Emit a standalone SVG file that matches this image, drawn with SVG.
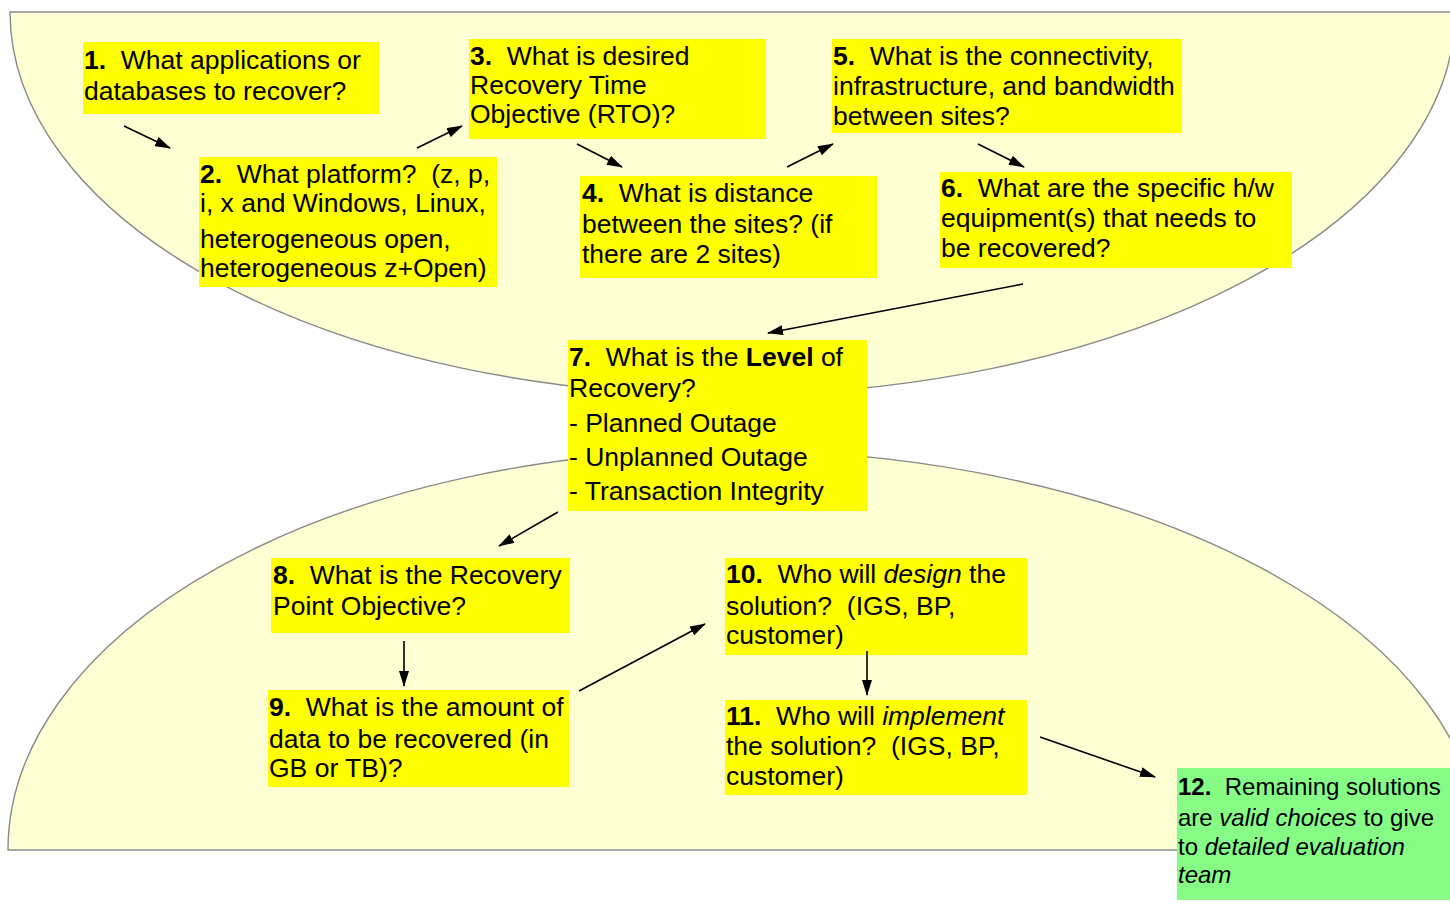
<svg xmlns="http://www.w3.org/2000/svg" width="1450" height="907" viewBox="0 0 1450 907">
<style>
.bg{fill:#FFFFD4;stroke:#8a8a8a;stroke-width:1.4}
.y{fill:#FFFF00}
.g{fill:#86FC86}
text{font-family:"Liberation Sans",Arial,Helvetica,sans-serif;font-size:26.5px;fill:#000}
text.s{font-size:24px}
.b{font-weight:bold}
.i{font-style:italic}
.c{stroke:#000;stroke-width:1.6;fill:none;marker-end:url(#ah)}
</style>
<defs>
<marker id="ah" markerUnits="userSpaceOnUse" markerWidth="16" markerHeight="10" refX="15" refY="5" orient="auto">
<path d="M0,0 L16,5 L0,10 z" fill="#000"/>
</marker>
</defs>
<rect width="1450" height="907" fill="#fff"/>
<g id="background">
<path class="bg" d="M10 12 A715 383 0 0 0 725 395 A730 383 0 0 0 1455 12 Z"/>
<path class="bg" d="M8 850 A720 400 0 0 1 728 450 A752 400 0 0 1 1480 850 Z"/>
</g>
<g id="n1">
<rect class="y" x="83" y="42" width="296" height="72"/>
<text x="84" y="69"><tspan class="b">1.</tspan>&#160; What applications or</text>
<text x="84" y="100">databases to recover?</text>
</g>
<g id="n2">
<rect class="y" x="199" y="157" width="298" height="130"/>
<text x="200" y="183"><tspan class="b">2.</tspan>&#160; What platform?&#160; (z, p,</text>
<text x="200" y="212">i, x and Windows, Linux,</text>
<text x="200" y="248">heterogeneous open,</text>
<text x="200" y="277">heterogeneous z+Open)</text>
</g>
<g id="n3">
<rect class="y" x="469" y="39" width="297" height="100"/>
<text x="470" y="65"><tspan class="b">3.</tspan>&#160; What is desired</text>
<text x="470" y="94">Recovery Time</text>
<text x="470" y="123">Objective (RTO)?</text>
</g>
<g id="n4">
<rect class="y" x="580" y="176" width="297" height="102"/>
<text x="582" y="202"><tspan class="b">4.</tspan>&#160; What is distance</text>
<text x="582" y="233">between the sites? (if</text>
<text x="582" y="263">there are 2 sites)</text>
</g>
<g id="n5">
<rect class="y" x="832" y="39" width="350" height="94"/>
<text x="833" y="65"><tspan class="b">5.</tspan>&#160; What is the connectivity,</text>
<text x="833" y="95">infrastructure, and bandwidth</text>
<text x="833" y="125">between sites?</text>
</g>
<g id="n6">
<rect class="y" x="940" y="172" width="352" height="96"/>
<text x="941" y="197"><tspan class="b">6.</tspan>&#160; What are the specific h/w</text>
<text x="941" y="227">equipment(s) that needs to</text>
<text x="941" y="257">be recovered?</text>
</g>
<g id="n7">
<rect class="y" x="568" y="340" width="299" height="171"/>
<text x="569" y="366"><tspan class="b">7.</tspan>&#160; What is the <tspan class="b">Level</tspan> of</text>
<text x="569" y="397">Recovery?</text>
<text x="569" y="432">- Planned Outage</text>
<text x="569" y="466">- Unplanned Outage</text>
<text x="569" y="500">- Transaction Integrity</text>
</g>
<g id="n8">
<rect class="y" x="271" y="558" width="299" height="75"/>
<text x="273" y="584"><tspan class="b">8.</tspan>&#160; What is the Recovery</text>
<text x="273" y="615">Point Objective?</text>
</g>
<g id="n9">
<rect class="y" x="268" y="690" width="301" height="97"/>
<text x="269" y="716"><tspan class="b">9.</tspan>&#160; What is the amount of</text>
<text x="269" y="748">data to be recovered (in</text>
<text x="269" y="777">GB or TB)?</text>
</g>
<g id="n10">
<rect class="y" x="725" y="558" width="302" height="97"/>
<text x="726" y="583"><tspan class="b">10.</tspan>&#160; Who will <tspan class="i">design</tspan> the</text>
<text x="726" y="615">solution?&#160; (IGS, BP,</text>
<text x="726" y="644">customer)</text>
</g>
<g id="n11">
<rect class="y" x="725" y="700" width="302" height="95"/>
<text x="726" y="725"><tspan class="b">11.</tspan>&#160; Who will <tspan class="i">implement</tspan></text>
<text x="726" y="755">the solution?&#160; (IGS, BP,</text>
<text x="726" y="785">customer)</text>
</g>
<g id="n12">
<rect class="g" x="1177" y="768" width="280" height="132"/>
<text class="s" x="1178" y="795"><tspan class="b">12.</tspan>&#160; Remaining solutions</text>
<text class="s" x="1178" y="826">are <tspan class="i">valid choices</tspan> to give</text>
<text class="s" x="1178" y="855">to <tspan class="i">detailed evaluation</tspan></text>
<text class="s i" x="1178" y="883">team</text>
</g>
<g id="connectors">
<line class="c" x1="124" y1="126" x2="170" y2="148"/>
<line class="c" x1="417" y1="148" x2="462" y2="126"/>
<line class="c" x1="577" y1="144" x2="622" y2="167"/>
<line class="c" x1="787" y1="167" x2="833" y2="144"/>
<line class="c" x1="978" y1="144" x2="1024" y2="167"/>
<line class="c" x1="1023" y1="284" x2="768" y2="333"/>
<line class="c" x1="558" y1="512" x2="499" y2="546"/>
<line class="c" x1="404" y1="641" x2="404" y2="686"/>
<line class="c" x1="579" y1="691" x2="705" y2="624"/>
<line class="c" x1="867" y1="651" x2="867" y2="695"/>
<line class="c" x1="1040" y1="737" x2="1155" y2="777"/>
</g>
</svg>
